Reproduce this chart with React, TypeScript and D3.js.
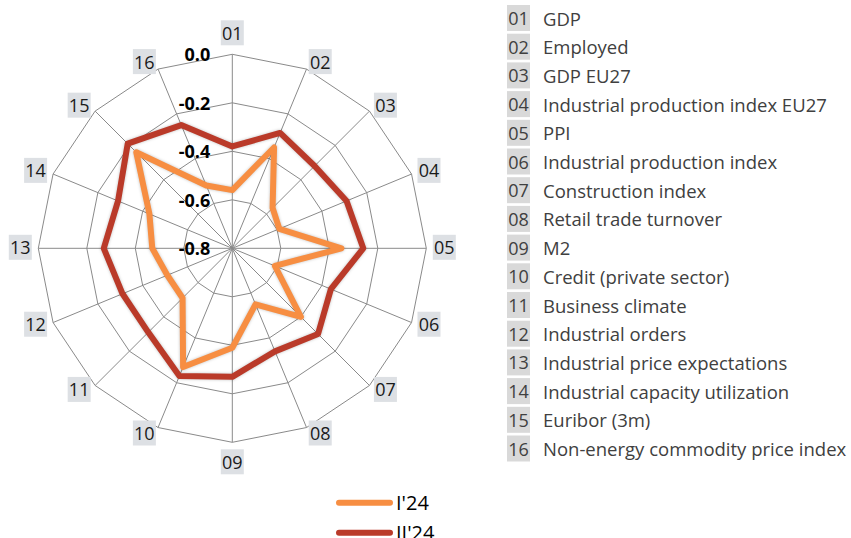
import React, { useEffect, useRef } from "react";
import * as d3 from "d3";

const axisCodes = ["01","02","03","04","05","06","07","08","09","10","11","12","13","14","15","16"];
const axisNames = [
  "GDP","Employed","GDP EU27","Industrial production index EU27","PPI",
  "Industrial production index","Construction index","Retail trade turnover","M2",
  "Credit (private sector)","Business climate","Industrial orders",
  "Industrial price expectations","Industrial capacity utilization","Euribor (3m)",
  "Non-energy commodity price index"
];
const seriesI24 = [-0.56,-0.35,-0.565,-0.59,-0.35,-0.61,-0.40,-0.55,-0.39,-0.27,-0.51,-0.51,-0.47,-0.43,-0.24,-0.52];
const seriesII24 = [-0.38,-0.285,-0.32,-0.29,-0.26,-0.36,-0.30,-0.34,-0.27,-0.23,-0.31,-0.31,-0.27,-0.29,-0.19,-0.25];
const seriesNames = ["I'24","II'24"];
const seriesColors = ["#F78E42","#BA3A29"];
const tickValues = [0.0,-0.2,-0.4,-0.6,-0.8];

const W = 851, H = 538;
const CX = 232.3, CY = 248.3, R = 194;

export default function App() {
  const ref = useRef<SVGSVGElement>(null);
  useEffect(() => {
    const svg = d3.select(ref.current);
    svg.selectAll("*").remove();
    const n = axisCodes.length;
    const r = d3.scaleLinear().domain([-0.8, 0]).range([0, R]);
    const ang = d3.scaleLinear().domain([0, n]).range([0, 2 * Math.PI]);
    const pt = (i: number, v: number) => {
      const a = ang(i);
      return [CX + Math.sin(a) * r(v), CY - Math.cos(a) * r(v)];
    };
    const g = svg.append("g");
    // rings
    tickValues.filter(t => t > -0.8).forEach(t => {
      const pts = d3.range(n).map(i => pt(i, t));
      g.append("path")
        .attr("d", d3.line()(pts as any) + "Z")
        .attr("fill", "none").attr("stroke", "#8a8a8a").attr("stroke-width", 1);
    });
    // spokes
    d3.range(n).forEach(i => {
      const [x, y] = pt(i, 0);
      g.append("line").attr("x1", CX).attr("y1", CY).attr("x2", x).attr("y2", y)
        .attr("stroke", "#8a8a8a").attr("stroke-width", 1);
    });
    // axis labels
    d3.range(n).forEach(i => {
      const a = ang(i);
      const s = Math.sin(a), c = Math.cos(a);
      const [ex, ey] = pt(i, 0);
      const bw = 23, bh = 25, gap = 7;
      let dx = gap * s, dy = -gap * c;
      if (Math.abs(s) < 0.1) dy += -Math.sign(c) * 13.5; else dx += Math.sign(s) * 11;
      const lx = ex + dx, ly = ey + dy - 1;
      g.append("rect").attr("x", lx - bw / 2).attr("y", ly - bh / 2).attr("width", bw).attr("height", bh)
        .attr("fill", "#dde0e4");
      g.append("text").attr("x", lx).attr("y", ly).attr("text-anchor", "middle")
        .attr("dominant-baseline", "central")
        .attr("font-family", "Open Sans").attr("font-size", 18).attr("fill", "#1a1a1a")
        .text(axisCodes[i]);
    });
    // series
    const lineGen = d3.lineRadial<number>()
      .angle((_, i) => ang(i)).radius(v => r(v)).curve(d3.curveLinearClosed);
    [seriesI24, seriesII24].forEach((data, k) => {
      g.append("path").attr("transform", `translate(${CX},${CY})`)
        .attr("d", lineGen(data) as string)
        .attr("fill", "none").attr("stroke", seriesColors[k]).attr("stroke-width", 6)
        .attr("stroke-linejoin", "round")
        .style("filter", "drop-shadow(0px 0px 1.5px rgba(0,0,0,0.25))");
    });
    // tick labels
    tickValues.forEach(t => {
      g.append("text").attr("x", CX - 22).attr("y", CY - r(t)).attr("text-anchor", "end")
        .attr("dominant-baseline", "central")
        .attr("font-family", "Open Sans").attr("font-weight", "bold").attr("font-size", 18)
        .attr("fill", "#000").text(t.toFixed(1));
    });
    // right legend
    const ly0 = 18, lstep = 28.7;
    axisCodes.forEach((code, i) => {
      const y = ly0 + i * lstep;
      g.append("rect").attr("x", 507).attr("y", y - 13).attr("width", 23).attr("height", 26).attr("fill", "#d9d9d9");
      g.append("text").attr("x", 518.5).attr("y", y).attr("text-anchor", "middle").attr("dominant-baseline", "central")
        .attr("font-family", "Open Sans").attr("font-size", 18).attr("fill", "#404040").text(code);
      g.append("text").attr("x", 543).attr("y", y).attr("dominant-baseline", "central")
        .attr("font-family", "Open Sans").attr("font-size", 18.5).attr("fill", "#404040").text(axisNames[i]);
    });
    // bottom legend
    seriesNames.forEach((name, k) => {
      const y = 502.7 + k * 30;
      g.append("line").attr("x1", 339).attr("x2", 390).attr("y1", y).attr("y2", y)
        .attr("stroke", seriesColors[k]).attr("stroke-width", 6).attr("stroke-linecap", "round");
      g.append("text").attr("x", 396).attr("y", y).attr("dominant-baseline", "central")
        .attr("font-family", "Open Sans").attr("font-size", 20).attr("fill", "#000").text(name);
    });
  }, []);
  return (
    <svg ref={ref} width={W} height={H}
      style={{ position: "absolute", left: 0, top: 0, background: "#fff" }} />
  );
}
